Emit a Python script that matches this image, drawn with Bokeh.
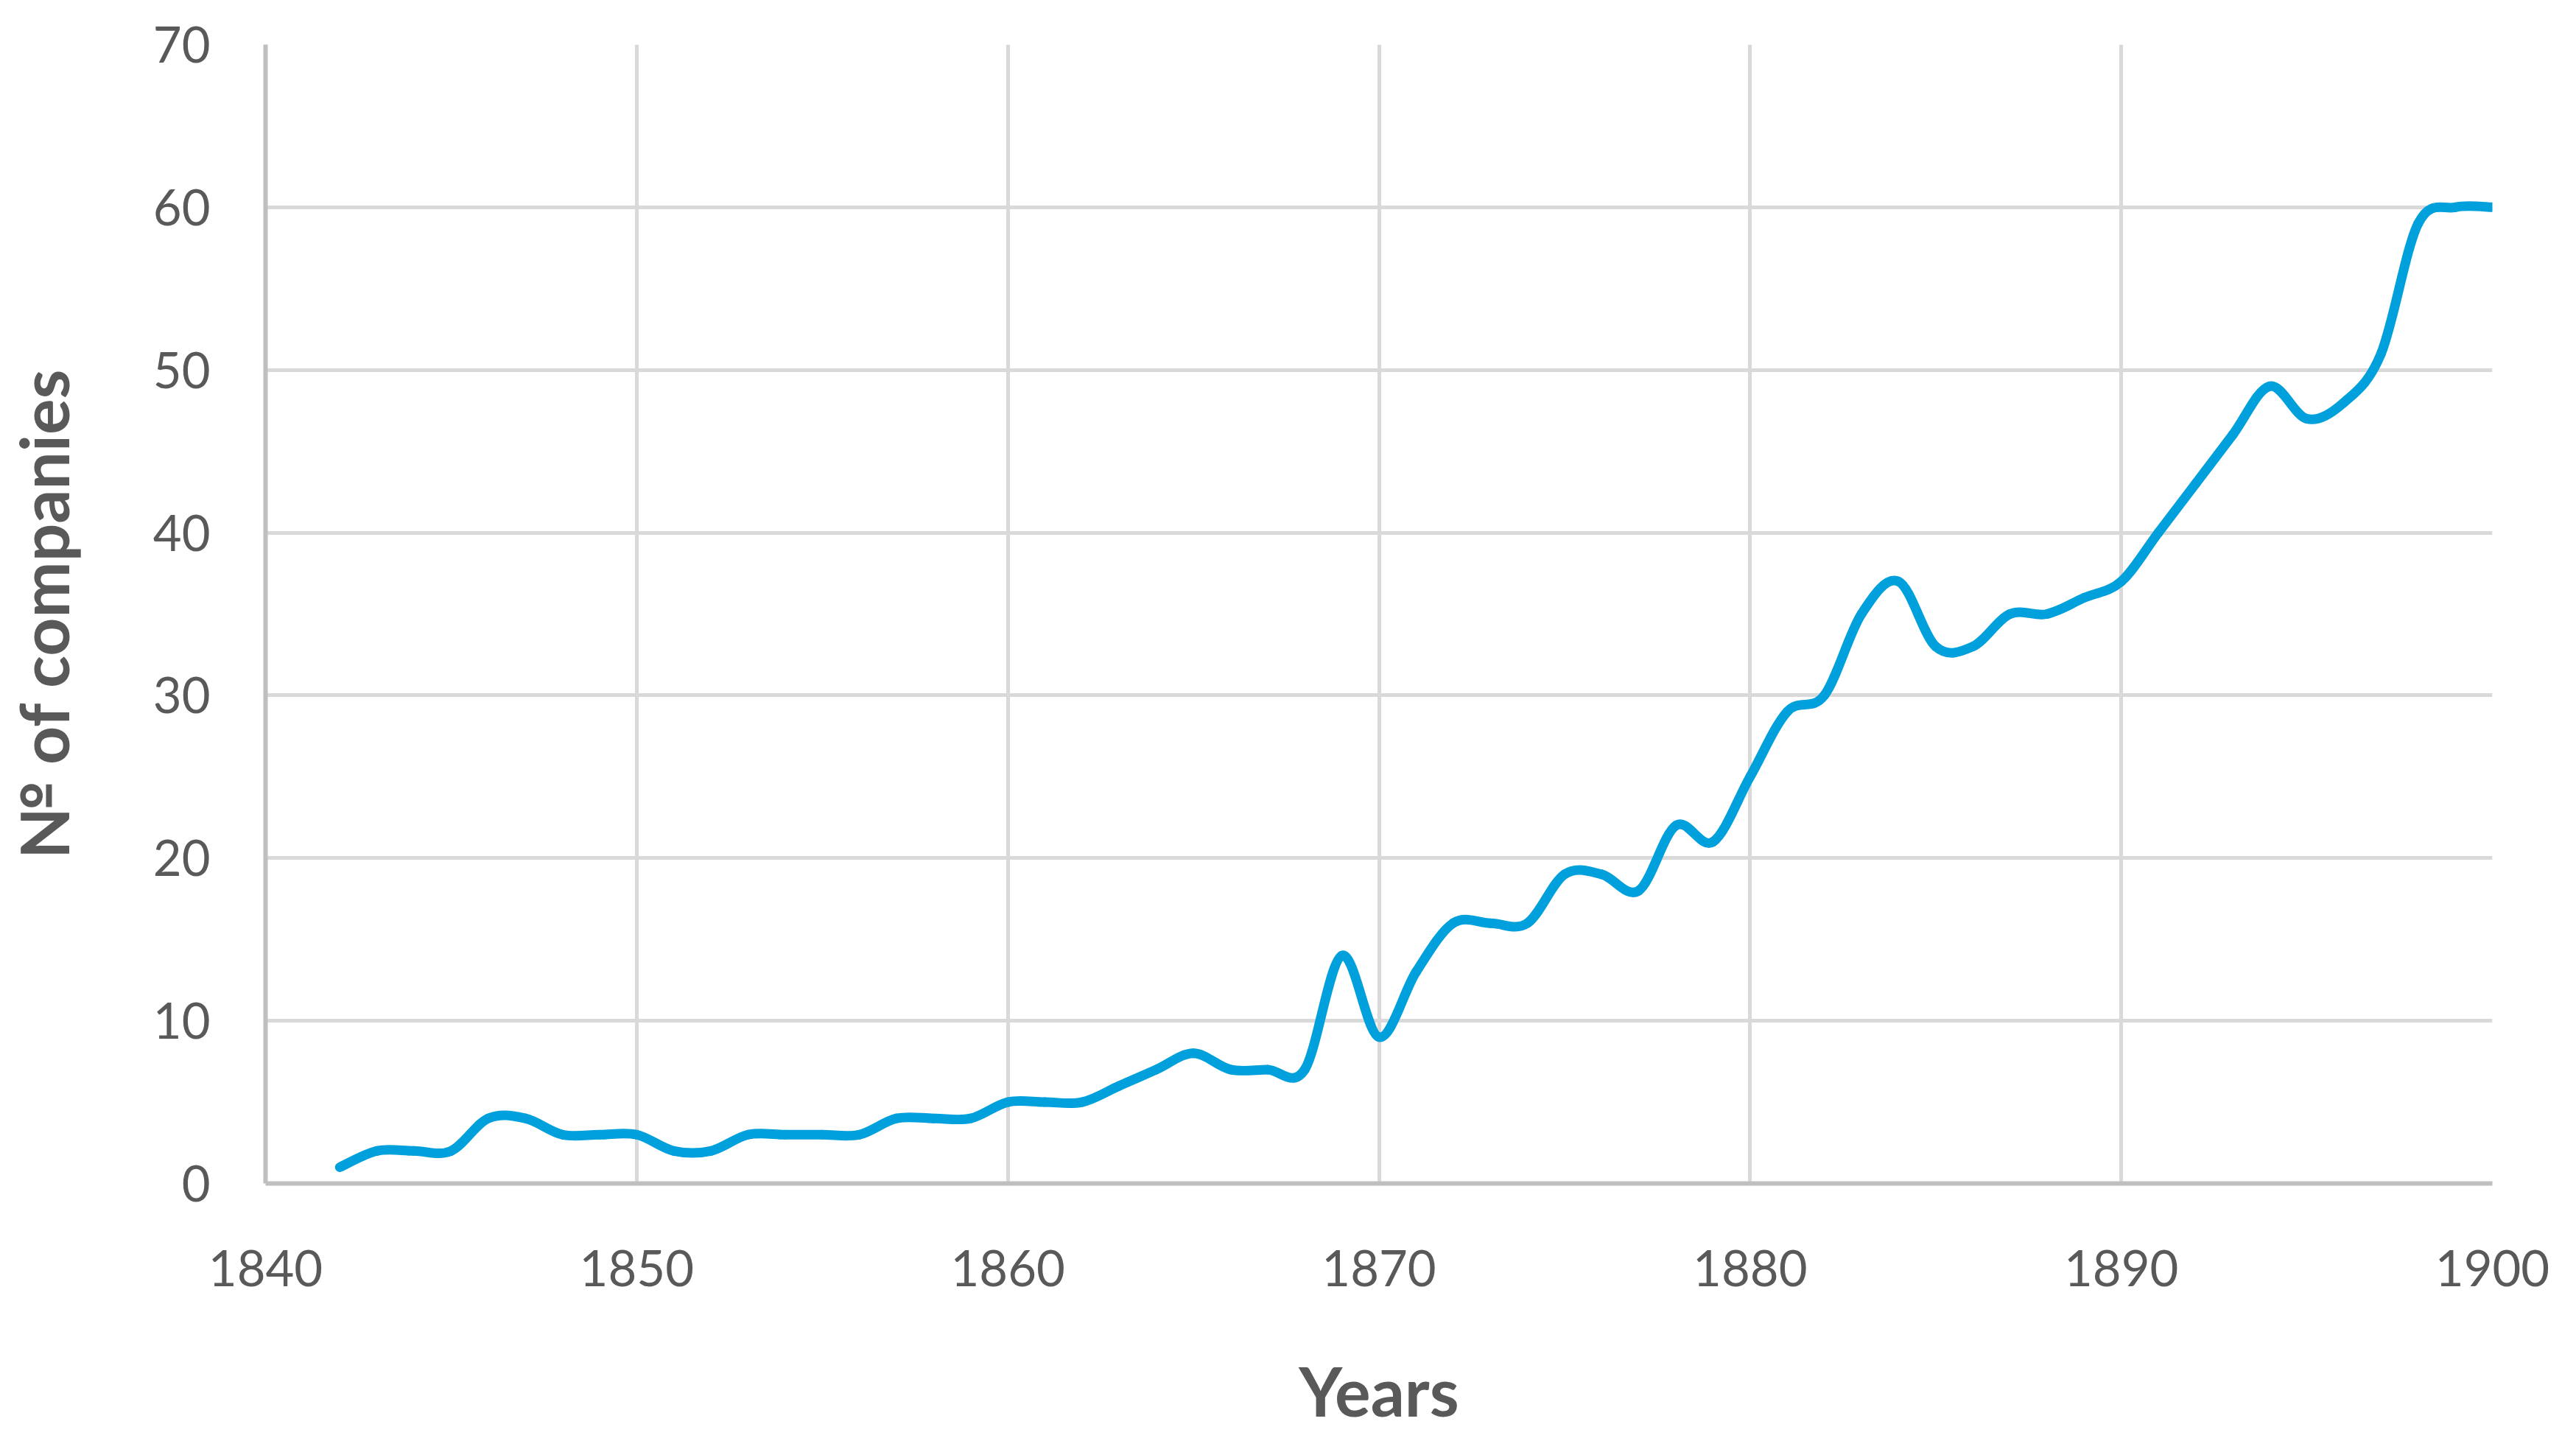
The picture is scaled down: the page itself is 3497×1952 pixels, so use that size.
from bokeh.plotting import figure
from bokeh.models import Range1d, FixedTicker
from bokeh.embed import file_html
from bokeh.resources import INLINE

years = list(range(1842, 1901))
companies = [1, 2, 2, 2, 4, 4, 3, 3, 3, 2,
             2, 3, 3, 3, 3, 4, 4, 4, 5, 5,
             5, 6, 7, 8, 7, 7, 7, 14, 9, 13,
             16, 16, 16, 19, 19, 18, 22, 21, 25, 29,
             30, 35, 37, 33, 33, 35, 35, 36, 37, 40,
             43, 46, 49, 47, 48, 51, 59, 60, 60]
x_ticks = [1840, 1850, 1860, 1870, 1880, 1890, 1900]
y_ticks = [0, 10, 20, 30, 40, 50, 60, 70]

TXT = "#595959"
FONT = "Lato"

p = figure(width=3497, height=1952, output_backend="svg", toolbar_location=None,
           x_range=Range1d(1840, 1900), y_range=Range1d(0, 70),
           min_border_left=357, min_border_right=114, min_border_top=60,
           min_border_bottom=346)
p.outline_line_color = None
p.background_fill_color = "white"
p.border_fill_color = "white"

# smoothed line (Excel-style cubic Bezier segments through data points)
n = len(years)
x0, y0, x1, y1, cx0, cy0, cx1, cy1 = [], [], [], [], [], [], [], []
for i in range(n - 1):
    im1 = max(i - 1, 0)
    ip2 = min(i + 2, n - 1)
    x0.append(years[i]); y0.append(companies[i])
    x1.append(years[i + 1]); y1.append(companies[i + 1])
    cx0.append(years[i] + (years[i + 1] - years[im1]) / 6.0)
    cy0.append(companies[i] + (companies[i + 1] - companies[im1]) / 6.0)
    cx1.append(years[i + 1] - (years[ip2] - years[i]) / 6.0)
    cy1.append(companies[i + 1] - (companies[ip2] - companies[i]) / 6.0)
p.bezier(x0=x0, y0=y0, x1=x1, y1=y1, cx0=cx0, cy0=cy0, cx1=cx1, cy1=cy1,
         line_color="#00A0DC", line_width=13, line_cap="round")

for ax in (p.xaxis[0], p.yaxis[0]):
    ax.major_tick_line_color = None
    ax.minor_tick_line_color = None
    ax.major_tick_out = 0
    ax.major_tick_in = 0
    ax.minor_tick_out = 0
    ax.axis_line_color = "#BFBFBF"
    ax.axis_line_width = 6
    ax.major_label_text_font = FONT
    ax.major_label_text_font_size = "67px"
    ax.major_label_text_color = TXT
    ax.axis_label_text_font = FONT
    ax.axis_label_text_font_size = "91px"
    ax.axis_label_text_font_style = "bold"
    ax.axis_label_text_color = TXT

p.xaxis.ticker = FixedTicker(ticks=x_ticks)
p.yaxis.ticker = FixedTicker(ticks=y_ticks)
p.xaxis.axis_label = "Years"
p.yaxis.axis_label = "№ of companies"
p.xaxis.major_label_standoff = 90
p.xaxis.axis_label_standoff = 84
p.yaxis.major_label_standoff = 75
p.yaxis.axis_label_standoff = 92

p.xgrid.ticker = FixedTicker(ticks=x_ticks)
p.ygrid.ticker = FixedTicker(ticks=y_ticks)
for g in (p.xgrid[0], p.ygrid[0]):
    g.grid_line_color = "#D9D9D9"
    g.grid_line_width = 5

open("out.html", "w").write(file_html(p, INLINE))
